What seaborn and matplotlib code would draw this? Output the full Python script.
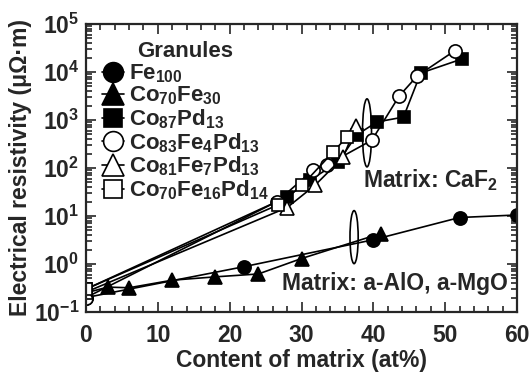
import numpy as np
import pandas as pd
import matplotlib
matplotlib.use("Agg")
import matplotlib.pyplot as plt
from matplotlib.patches import Ellipse
from matplotlib.ticker import MultipleLocator, LogLocator, NullFormatter
import seaborn as sns

# ---- data ----
fe100_x = [0, 22, 40, 52, 60]
fe100_y = [0.2, 0.88, 3.2, 9.3, 10.5]

co70fe30_x = [0, 3, 6, 12, 18, 24, 30, 41]
co70fe30_y = [0.25, 0.33, 0.32, 0.46, 0.54, 0.62, 1.3, 4.3]

co87pd13_x = [0, 28, 31.2, 35.1, 37.7, 40.5, 44.2, 46.6, 52.4]
co87pd13_y = [0.3, 25, 56, 133, 490, 910, 1150, 9500, 18800]

co83fe4pd13_x = [0, 26.6, 31.6, 33.5, 39.8, 43.6, 46.1, 51.3]
co83fe4pd13_y = [0.2, 20, 90, 115, 380, 3160, 8250, 27500]

co81fe7pd13_x = [0, 28, 31.9, 35.8, 37.6]
co81fe7pd13_y = [0.26, 15, 44, 168, 750]

co70fe16pd14_x = [0, 26.7, 30.1, 34.4, 36.3]
co70fe16pd14_y = [0.3, 17, 44, 215, 440]

labels = ["Fe$_{100}$", "Co$_{70}$Fe$_{30}$", "Co$_{87}$Pd$_{13}$",
          "Co$_{83}$Fe$_{4}$Pd$_{13}$", "Co$_{81}$Fe$_{7}$Pd$_{13}$",
          "Co$_{70}$Fe$_{16}$Pd$_{14}$"]

x_ticks = [0, 10, 20, 30, 40, 50, 60]
y_ticks = [1e-1, 1e0, 1e1, 1e2, 1e3, 1e4, 1e5]
y_ticklabels = [r"$10^{-1}$", r"$10^{0}$", r"$10^{1}$", r"$10^{2}$",
                r"$10^{3}$", r"$10^{4}$", r"$10^{5}$"]

# ---- style ----
sns.set_style("ticks")
plt.rcParams["font.family"] = ["Liberation Sans", "DejaVu Sans"]
plt.rcParams["font.weight"] = "bold"
plt.rcParams["axes.labelweight"] = "bold"
plt.rcParams["mathtext.fontset"] = "custom"
for k in ["rm", "it", "bf", "sf", "cal"]:
    plt.rcParams["mathtext." + k] = "Liberation Sans:bold"

FS = 16.5
LFS = 16

fig = plt.figure(figsize=(5.32, 3.76), dpi=100)
ax = fig.add_axes([86/532, 1 - 312/376, 431/532, 288/376])

series = [
    (fe100_x, fe100_y, "o", "black", 9.5),
    (co70fe30_x, co70fe30_y, "^", "black", 10.5),
    (co87pd13_x, co87pd13_y, "s", "black", 8.5),
    (co83fe4pd13_x, co83fe4pd13_y, "o", "white", 9.5),
    (co81fe7pd13_x, co81fe7pd13_y, "^", "white", 10.5),
    (co70fe16pd14_x, co70fe16pd14_y, "s", "white", 8.5),
]

for (xs, ys, mk, fc, ms), lab in zip(series, labels):
    df = pd.DataFrame({"x": xs, "y": ys})
    sns.lineplot(data=df, x="x", y="y", ax=ax, color="black", lw=1.2,
                 marker=mk, markersize=ms, markerfacecolor=fc,
                 markeredgecolor="black", markeredgewidth=1.2,
                 estimator=None, label=lab)

ax.set_yscale("log")
ax.set_xlim(0, 60)
ax.set_ylim(1e-1, 1e5)
ax.set_xticks(x_ticks)
ax.set_xticklabels([str(v) for v in x_ticks])
ax.set_yticks(y_ticks)
ax.set_yticklabels(y_ticklabels)
ax.xaxis.set_minor_locator(MultipleLocator(2))
ax.yaxis.set_minor_locator(LogLocator(base=10, subs=np.arange(2, 10), numticks=20))
ax.yaxis.set_minor_formatter(NullFormatter())

ax.tick_params(which="both", direction="in", top=True, right=True,
               labelsize=FS, width=1.2)
ax.tick_params(which="major", length=7)
ax.tick_params(axis="x", which="major", pad=9)
ax.tick_params(axis="y", which="major", pad=5)
ax.tick_params(which="minor", length=4)
for s in ax.spines.values():
    s.set_linewidth(1.6)

ax.set_xlabel("Content of matrix (at%)", fontsize=FS, fontweight="bold", labelpad=1)
ax.set_ylabel("Electrical resistivity (μΩ·m)", fontsize=FS, fontweight="bold", labelpad=1)

leg = ax.legend(loc="upper left", bbox_to_anchor=(0.037, 0.94), frameon=False,
                title="Granules", fontsize=LFS,
                title_fontproperties={"weight": "bold", "size": LFS},
                markerscale=1.5, handlelength=1.0, handletextpad=0.2,
                labelspacing=0.0, borderpad=0, borderaxespad=0)

# annotations
ax.text(0.642, 0.434, "Matrix: CaF$_{2}$", transform=ax.transAxes,
        fontsize=FS, fontweight="bold", ha="left", va="baseline")
ax.text(0.455, 0.076, "Matrix: a-AlO, a-MgO", transform=ax.transAxes,
        fontsize=FS, fontweight="bold", ha="left", va="baseline")
ax.add_patch(Ellipse((0.652, 0.622), 0.021, 0.236, transform=ax.transAxes,
                     fill=False, lw=1.2, ec="black"))
ax.add_patch(Ellipse((0.622, 0.260), 0.019, 0.184, transform=ax.transAxes,
                     fill=False, lw=1.2, ec="black"))

fig.savefig("out.png", dpi=100)
